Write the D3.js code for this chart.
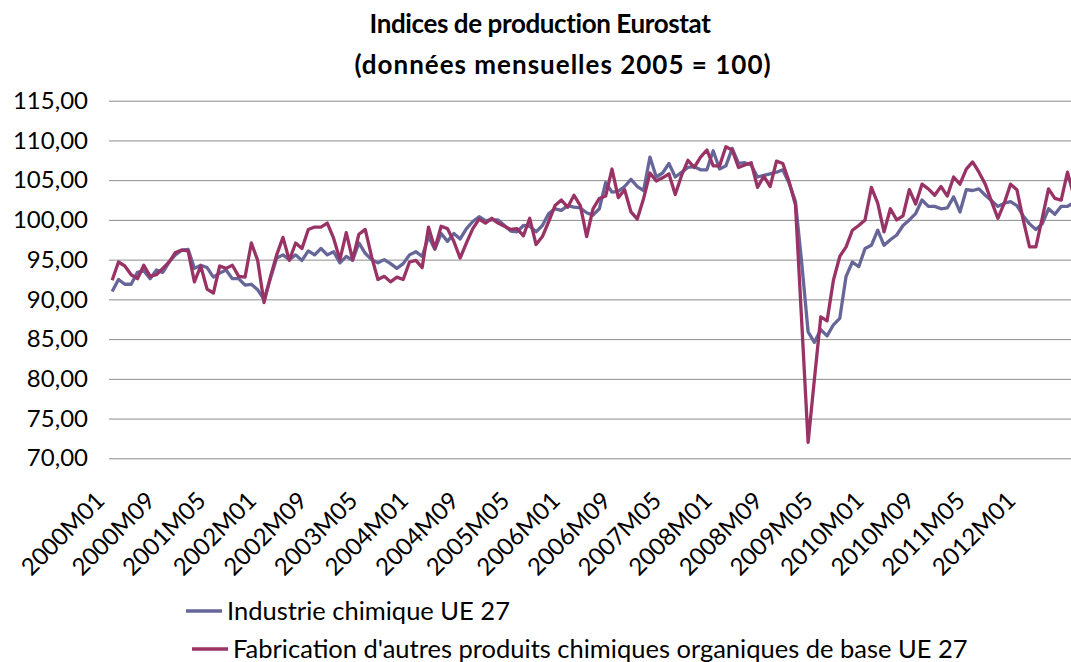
<!DOCTYPE html>
<html>
<head>
<meta charset="utf-8">
<script src="https://cdn.jsdelivr.net/npm/d3@7"></script>
<style>
  body { margin: 0; background: #fff; }
  #chart { width: 1071px; height: 662px; }
  text { font-family: Lato, "Open Sans", sans-serif; fill: #000; }
</style>
</head>
<body>
<div id="chart"></div>
<script>
// monthly categories 2000M01 .. 2012M09
var firstYear = 2000
var monthCount = 153

var tickLabels = ["2000M01", "2000M09", "2001M05", "2002M01", "2002M09", "2003M05",
  "2004M01", "2004M09", "2005M05", "2006M01", "2006M09", "2007M05", "2008M01",
  "2008M09", "2009M05", "2010M01", "2010M09", "2011M05", "2012M01"]

var yTicks = [70, 75, 80, 85, 90, 95, 100, 105, 110, 115]

var seriesNames = ["Industrie chimique UE 27",
  "Fabrication d'autres produits chimiques organiques de base UE 27"]

var industrieChimique = [
  91.0, 92.5, 91.9, 91.9, 93.4, 93.6, 92.6, 93.7, 93.4, 94.7, 95.6, 96.2,
  96.3, 93.9, 94.3, 94.0, 92.8, 93.3, 93.7, 92.6, 92.6, 91.8, 91.9, 91.2,
  90.0, 92.6, 95.2, 95.6, 95.0, 95.6, 94.9, 96.1, 95.6, 96.4, 95.6, 96.0,
  94.6, 95.4, 94.9, 97.1, 95.8, 95.0, 94.6, 95.0, 94.5, 93.9, 94.5, 95.6,
  96.0, 95.4, 97.9, 96.3, 98.3, 97.3, 98.3, 97.6, 98.9, 99.8, 100.4, 99.9,
  100.0, 100.0, 99.3, 98.6, 98.5, 99.3, 99.2, 98.5, 99.3, 100.8, 101.4, 101.2,
  101.8, 101.6, 101.5, 100.9, 100.6, 101.4, 104.7, 103.5, 103.6, 104.2, 105.1, 104.2,
  103.7, 107.9, 105.4, 105.9, 107.1, 105.4, 106.0, 106.6, 106.7, 106.3, 106.3, 108.7,
  106.4, 106.8, 109.0, 107.1, 107.2, 106.9, 105.4, 105.6, 105.8, 106.0, 106.3, 104.6,
  102.3, 94.5, 85.9, 84.6, 86.2, 85.4, 86.8, 87.6, 92.9, 94.7, 94.1, 96.4,
  96.8, 98.7, 96.8, 97.5, 98.1, 99.3, 100.0, 100.8, 102.5, 101.7, 101.7, 101.4,
  101.5, 102.9, 101.0, 103.8, 103.7, 103.9, 103.1, 102.4, 101.7, 102.1, 102.3, 101.8,
  100.5, 99.5, 98.8, 99.5, 101.4, 100.7, 101.7, 101.7, 102.2
]

var organiquesBase = [
  92.4, 94.7, 94.2, 93.1, 92.6, 94.3, 92.9, 93.1, 93.9, 94.7, 95.9, 96.2,
  96.1, 92.2, 94.2, 91.3, 90.8, 94.2, 93.9, 94.3, 92.9, 92.8, 97.1, 94.9,
  89.6, 92.8, 95.6, 97.8, 94.9, 97.1, 96.4, 98.8, 99.1, 99.1, 99.6, 97.7,
  95.0, 98.4, 95.0, 98.2, 98.8, 95.4, 92.5, 92.9, 92.2, 92.8, 92.5, 94.7,
  94.9, 94.0, 99.1, 96.4, 99.2, 98.9, 97.3, 95.2, 97.1, 98.9, 100.1, 99.6,
  100.2, 99.6, 99.2, 98.8, 98.9, 98.0, 100.2, 96.9, 97.9, 99.8, 101.8, 102.5,
  101.6, 103.1, 101.8, 97.9, 101.4, 102.7, 103.0, 106.4, 102.8, 103.8, 101.0, 100.1,
  102.7, 105.9, 104.9, 105.3, 105.8, 103.2, 105.6, 107.5, 106.6, 107.9, 108.8, 106.8,
  106.8, 109.2, 108.8, 106.6, 106.9, 107.2, 104.1, 105.5, 104.2, 107.4, 107.1, 104.8,
  101.9, 87.0, 72.0, 80.0, 87.8, 87.3, 92.4, 95.4, 96.6, 98.7, 99.3, 100.0,
  104.1, 102.1, 98.5, 101.4, 100.0, 100.5, 103.8, 102.0, 104.5, 103.9, 103.1, 104.2,
  103.0, 105.4, 104.5, 106.4, 107.3, 106.0, 104.5, 102.3, 100.2, 102.1, 104.5, 103.8,
  100.0, 96.6, 96.6, 100.2, 103.9, 102.7, 102.5, 106.0, 103.0
]

var colors = ["#666699", "#993366"]

var months = d3.range(monthCount).map(function (i) {
  var y = firstYear + Math.floor(i / 12)
  var m = (i % 12) + 1
  return y + "M" + (m < 10 ? "0" + m : m)
})

var width = 1071,
  height = 662,
  plot = { left: 109, right: 1077, top: 100.7, bottom: 458.3 }

var svg = d3.select("#chart").append("svg")
  .attr("width", width)
  .attr("height", height)

var x = d3.scalePoint()
  .domain(months)
  .range([plot.left, plot.right])
  .padding(0.5)

var y = d3.scaleLinear()
  .domain([70, 115])
  .range([plot.bottom, plot.top])

var fmt = function (d) {
  return d3.format(".2f")(d).replace(".", ",")
}

// gridlines + y labels
var yAxis = svg.append("g")
  .attr("transform", "translate(" + plot.left + ",0)")
  .call(d3.axisLeft(y).tickValues(yTicks).tickFormat(fmt)
    .tickSizeInner(-(plot.right - plot.left)).tickSizeOuter(0).tickPadding(21))

yAxis.select(".domain").remove()
yAxis.selectAll(".tick line")
  .attr("stroke", "#8c8c8c")
  .attr("stroke-width", 1)
yAxis.selectAll(".tick text")
  .style("font-size", "24px")
  .style("font-family", "Lato, sans-serif")
  .attr("fill", "#000")

// x labels (rotated)
svg.append("g").selectAll("text")
  .data(tickLabels.filter(function (d) { return x(d) <= width }))
  .enter().append("text")
  .attr("transform", function (d) {
    return "translate(" + (x(d) - 12) + "," + (plot.bottom + 38) + ") rotate(-45)"
  })
  .attr("text-anchor", "end")
  .attr("dy", "0.35em")
  .style("font-size", "24px")
  .text(function (d) { return d })

// lines
var line = d3.line()
  .x(function (d, i) { return x(months[i]) })
  .y(function (d) { return y(d) })

var series = [industrieChimique, organiquesBase]

svg.append("g").selectAll("path")
  .data(series)
  .enter().append("path")
  .attr("d", line)
  .attr("fill", "none")
  .attr("stroke", function (d, i) { return colors[i] })
  .attr("stroke-width", 3.3)
  .attr("stroke-linejoin", "round")

// title
var title = svg.append("g")
  .style("font-weight", "bold")
  .style("font-size", "26px")
  .attr("text-anchor", "middle")
title.append("text").attr("x", 540).attr("y", 33)
  .style("letter-spacing", "-0.4px")
  .text("Indices de production Eurostat")
title.append("text").attr("x", 563).attr("y", 74)
  .style("letter-spacing", "1px")
  .text("(données mensuelles 2005 = 100)")

// legend
var legendRows = [
  { x: 186, y: 611 },
  { x: 192, y: 649 }
]
var legend = svg.append("g").selectAll("g")
  .data(seriesNames)
  .enter().append("g")
  .attr("transform", function (d, i) {
    return "translate(" + legendRows[i].x + "," + legendRows[i].y + ")"
  })

legend.append("line")
  .attr("x1", 0).attr("x2", 36)
  .attr("stroke", function (d, i) { return colors[i] })
  .attr("stroke-width", 3.3)

legend.append("text")
  .attr("x", 41)
  .attr("dy", "0.35em")
  .style("font-size", "25.5px")
  .text(function (d) { return d })
</script>
</body>
</html>
